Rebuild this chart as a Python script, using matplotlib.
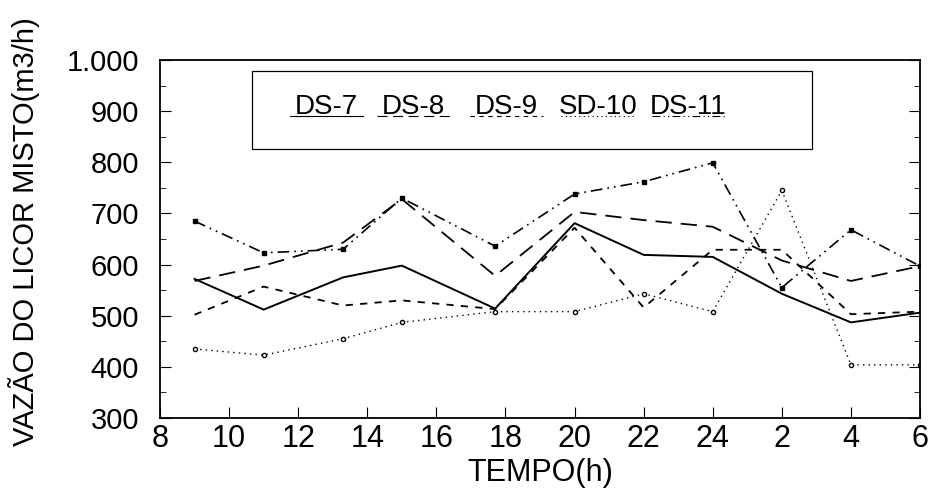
import matplotlib
matplotlib.use("Agg")
import matplotlib.pyplot as plt
from matplotlib.lines import Line2D
from matplotlib.patches import Rectangle

plt.rcParams['font.family'] = ['Liberation Sans', 'DejaVu Sans']

# hours on a continuous scale (2, 4, 6 of the next day -> 26, 28, 30)
tempo = [9, 11, 13.3, 15, 17.7, 20, 22, 24, 26, 28, 30]
ds7 = [572, 512, 575, 598, 514, 681, 619, 615, 543, 487, 506]
ds8 = [568, 598, 643, 728, 578, 703, 687, 674, 608, 568, 597]
ds9 = [502, 557, 520, 530, 513, 672, 516, 629, 629, 503, 508]
sd10 = [435, 423, 455, 487, 508, 508, 543, 508, 745, 404, 404]
ds11 = [685, 623, 630, 730, 636, 738, 762, 799, 555, 668, 597]

xticks = [8, 10, 12, 14, 16, 18, 20, 22, 24, 26, 28, 30]
xtick_labels = ['8', '10', '12', '14', '16', '18', '20', '22', '24', '2', '4', '6']
yticks = [300, 400, 500, 600, 700, 800, 900, 1000]
ytick_labels = ['300', '400', '500', '600', '700', '800', '900', '1.000']
labels = ['DS-7', 'DS-8', 'DS-9', 'SD-10', 'DS-11']

styles = [
    dict(linestyle='-', linewidth=1.4, marker=None),
    dict(linestyle=(0, (9, 5)), linewidth=1.3, marker=None),
    dict(linestyle=(0, (4, 4)), linewidth=1.3, marker=None),
    dict(linestyle=(0, (1, 3)), linewidth=1.0, marker='o', markersize=3,
         markerfacecolor='white'),
    dict(linestyle=(0, (7, 3, 1, 3, 1, 3)), linewidth=1.2, marker='s',
         markersize=3),
]

fig = plt.figure(figsize=(9.31, 4.9), dpi=100)
ax = fig.add_axes([0.1719, 0.1469, 0.8163, 0.7306])

for series, st in zip([ds7, ds8, ds9, sd10, ds11], styles):
    ax.plot(tempo, series, color='black', **st)

ax.set_xlim(8, 30)
ax.set_ylim(300, 1000)
ax.set_xticks(xticks)
ax.set_xticklabels(xtick_labels)
ax.set_yticks(yticks)
ax.set_yticklabels(ytick_labels)
ax.set_yticks(range(350, 1000, 100), minor=True)
ax.tick_params(axis='both', which='major', direction='in', length=8, right=True)
ax.tick_params(axis='y', which='minor', direction='in', length=4, right=True)
ax.tick_params(axis='x', labelsize=22, pad=4)
ax.tick_params(axis='y', labelsize=21, pad=15)
for sp in ax.spines.values():
    sp.set_linewidth(1.3)

ax.set_xlabel('TEMPO(h)', fontsize=22)
ax.xaxis.set_label_coords(0.5, -0.112)
ax.set_ylabel('VAZÃO DO LICOR MISTO(m3/h)', fontsize=21)
ax.yaxis.set_label_coords(-0.158, 0.52)

# legend drawn by hand: box, labels, line sample under each label
ax.add_patch(Rectangle((0.121, 0.751), 0.737, 0.218, transform=ax.transAxes,
                       fill=False, edgecolor='black', linewidth=0.9))
leg_x = [0.219, 0.333, 0.456, 0.576, 0.695]
for x, lab, st in zip(leg_x, labels, styles):
    ax.text(x, 0.85, lab, transform=ax.transAxes, ha='center', va='baseline',
            fontsize=20)
    ax.add_line(Line2D([x - 0.048, x + 0.048], [0.845, 0.845],
                       transform=ax.transAxes, color='black',
                       linestyle=st['linestyle'], linewidth=0.8))

fig.savefig('out.png', dpi=100)
